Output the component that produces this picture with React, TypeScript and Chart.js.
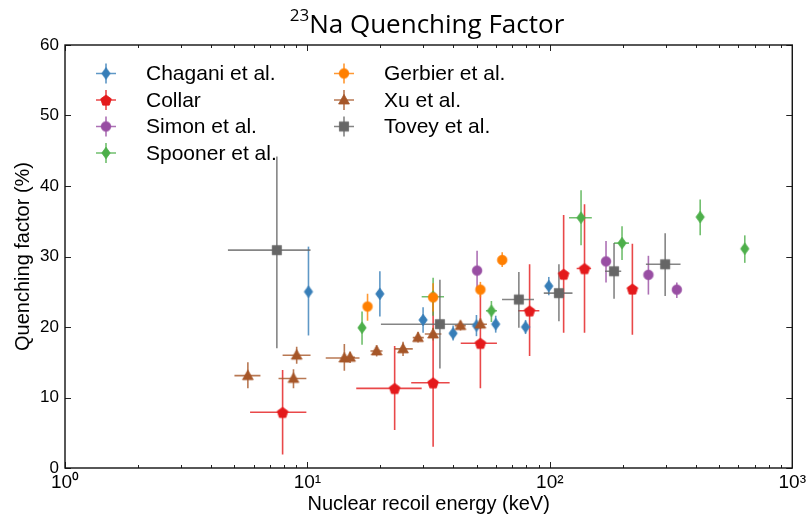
import React, { useEffect, useRef } from 'react';
import { Chart, registerables } from 'chart.js';
Chart.register(...registerables);

// [energy keV, QF %, energy low, energy high, QF low, QF high]
type Pt = [number, number, number, number, number, number];

const CHAGANI: Pt[] = [
  [10.1, 25.0, 10.1, 10.1, 18.8, 31.4],
  [19.9, 24.7, 19.9, 19.9, 21.5, 27.9],
  [30.0, 21.0, 30.0, 30.0, 19.2, 22.8],
  [39.9, 19.1, 39.9, 39.9, 18.1, 20.2],
  [49.8, 20.2, 49.8, 49.8, 18.7, 21.7],
  [59.8, 20.4, 59.8, 59.8, 19.2, 21.6],
  [79.4, 20.0, 79.4, 79.4, 19.0, 21.0],
  [99.0, 25.8, 99.0, 99.0, 24.5, 27.1],
];
const COLLAR: Pt[] = [
  [7.9, 7.9, 5.8, 9.9, 1.9, 13.9],
  [22.9, 11.3, 15.9, 29.6, 5.4, 17.3],
  [33.0, 12.1, 26.8, 38.6, 3.0, 24.3],
  [51.7, 17.7, 42.9, 60.5, 11.3, 24.6],
  [82.5, 22.3, 73.9, 90.5, 15.9, 28.9],
  [114, 27.5, 110, 118, 19.2, 35.9],
  [139, 28.3, 129, 148, 19.2, 37.4],
  [219, 25.4, 210, 228, 18.9, 31.8],
];
const SIMON: Pt[] = [
  [50.1, 28.0, 50.1, 50.1, 25.2, 30.8],
  [170.5, 29.3, 170.5, 170.5, 26.3, 32.2],
  [255, 27.4, 255, 255, 24.6, 30.1],
  [334, 25.3, 334, 334, 24.1, 26.3],
];
const SPOONER: Pt[] = [
  [16.8, 19.9, 16.3, 17.3, 17.5, 22.2],
  [33.0, 24.3, 29.6, 36.6, 21.6, 27.0],
  [57.4, 22.3, 54.5, 60.5, 20.7, 23.7],
  [134.5, 35.5, 120, 149, 31.6, 39.4],
  [198.5, 31.9, 184, 212, 29.5, 34.3],
  [417, 35.6, 417, 417, 33.0, 38.1],
  [637, 31.1, 637, 637, 29.1, 33.0],
];
const GERBIER: Pt[] = [
  [17.7, 22.9, 17.1, 18.3, 20.9, 24.7],
  [33.0, 24.2, 33.0, 33.0, 22.2, 26.2],
  [51.7, 25.3, 51.7, 51.7, 24.2, 26.4],
  [63.6, 29.5, 63.6, 63.6, 28.5, 30.6],
];
const XU: Pt[] = [
  [5.68, 13.1, 5.0, 6.4, 11.3, 15.0],
  [9.03, 16.0, 7.9, 10.3, 14.8, 17.2],
  [8.76, 12.7, 7.6, 9.9, 11.3, 14.0],
  [14.2, 15.6, 11.9, 16.4, 13.8, 17.6],
  [15.0, 15.7, 14.4, 15.7, 14.9, 16.5],
  [19.3, 16.6, 18.2, 20.4, 15.8, 17.4],
  [24.8, 16.9, 22.9, 27.2, 15.9, 17.9],
  [28.6, 18.5, 27.2, 30.2, 17.8, 19.3],
  [33.0, 19.0, 30.5, 35.7, 18.1, 19.9],
  [42.8, 20.2, 40.5, 45.0, 19.5, 20.9],
  [51.7, 20.4, 49.0, 55.0, 19.7, 21.2],
];
const TOVEY: Pt[] = [
  [7.48, 30.9, 4.7, 10.3, 17.0, 44.2],
  [35.2, 20.4, 20.1, 50.0, 14.1, 26.7],
  [74.5, 23.9, 63.5, 86.0, 19.9, 27.8],
  [109, 24.8, 94.4, 124, 20.8, 28.9],
  [184, 27.9, 169, 197, 24.0, 31.9],
  [299, 28.9, 249, 346, 24.4, 33.3],
];

const SERIES = [CHAGANI, COLLAR, SIMON, SPOONER, GERBIER, XU, TOVEY];
const SERIES_NAMES = ['Chagani et al.', 'Collar', 'Simon et al.', 'Spooner et al.', 'Gerbier et al.', 'Xu et al.', 'Tovey et al.'];
const SERIES_COLORS = ['#377eb8', '#e41a1c', '#984ea3', '#4daf4a', '#ff7f00', '#a65628', '#666666'];
const SERIES_MARKERS = ['diamond', 'pentagon', 'circle', 'diamond', 'circle', 'triangle', 'square'];

const X_TICKS = [1, 10, 100, 1000];
const X_TICK_LABELS = ['10⁰', '10¹', '10²', '10³'];
const Y_TICKS = [0, 10, 20, 30, 40, 50, 60];

const FONT = "'Liberation Sans', Arial, Helvetica, sans-serif";

function hexA(hex: string, a: number) {
  const n = parseInt(hex.slice(1), 16);
  return `rgba(${(n >> 16) & 255},${(n >> 8) & 255},${n & 255},${a})`;
}

function makeMarker(shape: string, color: string): HTMLCanvasElement {
  const c = document.createElement('canvas');
  c.width = 14; c.height = 14;
  const g = c.getContext('2d')!;
  g.fillStyle = color;
  g.strokeStyle = color;
  g.lineWidth = 0.8;
  const cx = 7, cy = 7;
  g.beginPath();
  if (shape === 'circle') {
    g.arc(cx, cy, 4.8, 0, Math.PI * 2);
  } else if (shape === 'diamond') {
    g.moveTo(cx, cy - 5.8); g.lineTo(cx + 4.2, cy); g.lineTo(cx, cy + 5.8); g.lineTo(cx - 4.2, cy); g.closePath();
  } else if (shape === 'pentagon') {
    for (let k = 0; k < 5; k++) {
      const a = -Math.PI / 2 + (k * 2 * Math.PI) / 5;
      const px = cx + 5.6 * Math.cos(a), py = cy + 0.6 + 5.6 * Math.sin(a);
      if (k === 0) g.moveTo(px, py); else g.lineTo(px, py);
    }
    g.closePath();
  } else if (shape === 'triangle') {
    g.moveTo(cx, cy - 5.6); g.lineTo(cx + 5.4, cy + 4); g.lineTo(cx - 5.4, cy + 4); g.closePath();
  } else {
    g.rect(cx - 4.6, cy - 4.6, 9.2, 9.2);
  }
  g.fill();
  g.stroke();
  return c;
}

const errorBarPlugin = {
  id: 'errorBars',
  beforeDatasetsDraw(chart: any) {
    const { ctx, scales } = chart;
    const xs = scales.x, ys = scales.y;
    ctx.save();
    ctx.lineWidth = 1.6;
    chart.data.datasets.forEach((ds: any, i: number) => {
      ctx.strokeStyle = hexA(SERIES_COLORS[i], 0.8);
      ds.data.forEach((d: any) => {
        const px = xs.getPixelForValue(d.x), py = ys.getPixelForValue(d.y);
        ctx.beginPath();
        if (d.xMax > d.xMin) {
          ctx.moveTo(xs.getPixelForValue(d.xMin), py);
          ctx.lineTo(xs.getPixelForValue(d.xMax), py);
        }
        ctx.moveTo(px, ys.getPixelForValue(d.yMin));
        ctx.lineTo(px, ys.getPixelForValue(d.yMax));
        ctx.stroke();
      });
    });
    ctx.restore();
  },
};

const framePlugin = {
  id: 'frame',
  afterDatasetsDraw(chart: any) {
    const { ctx, chartArea: a, scales } = chart;
    const xs = scales.x, ys = scales.y;
    ctx.save();
    ctx.strokeStyle = '#222';
    ctx.lineWidth = 1;
    ctx.beginPath();
    for (let d = 0; d < 3; d++) {
      for (let m = 1; m <= 9; m++) {
        const v = m * Math.pow(10, d);
        const px = Math.round(xs.getPixelForValue(v)) + 0.5;
        const len = m === 1 ? 6 : 3;
        ctx.moveTo(px, a.bottom); ctx.lineTo(px, a.bottom - len);
        ctx.moveTo(px, a.top); ctx.lineTo(px, a.top + len);
      }
    }
    Y_TICKS.forEach((v) => {
      const py = Math.round(ys.getPixelForValue(v)) + 0.5;
      ctx.moveTo(a.left, py); ctx.lineTo(a.left + 6, py);
      ctx.moveTo(a.right, py); ctx.lineTo(a.right - 6, py);
    });
    ctx.stroke();
    ctx.lineWidth = 1.4;
    ctx.strokeStyle = '#111';
    ctx.strokeRect(a.left, a.top, a.right - a.left, a.bottom - a.top);
    ctx.restore();
  },
};

const makeLegendPlugin = (markers: HTMLCanvasElement[]) => ({
  id: 'qfLegend',
  afterDraw(chart: any) {
    const { ctx, chartArea: a } = chart;
    ctx.save();
    ctx.font = `21px ${FONT}`;
    ctx.textBaseline = 'middle';
    ctx.textAlign = 'left';
    SERIES_NAMES.forEach((name, i) => {
      const col = i < 4 ? 0 : 1;
      const row = i < 4 ? i : i - 4;
      const mx = a.left + (col === 0 ? 41 : 279);
      const tx = a.left + (col === 0 ? 81 : 319);
      const y = a.top + 28.5 + row * 26.5;
      ctx.strokeStyle = hexA(SERIES_COLORS[i], 0.8);
      ctx.lineWidth = 1.6;
      ctx.beginPath();
      ctx.moveTo(mx - 10, y); ctx.lineTo(mx + 10, y);
      ctx.moveTo(mx, y - 10); ctx.lineTo(mx, y + 10);
      ctx.stroke();
      ctx.drawImage(markers[i], mx - 7, y - 7);
      ctx.fillStyle = '#000';
      ctx.fillText(name, tx, y + 1);
    });
    ctx.restore();
  },
});

export default function App() {
  const ref = useRef<HTMLCanvasElement | null>(null);
  useEffect(() => {
    if (!ref.current) return;
    const markers = SERIES_MARKERS.map((m, i) => makeMarker(m, SERIES_COLORS[i]));
    const chart = new Chart(ref.current, {
      type: 'scatter',
      data: {
        datasets: SERIES.map((pts, i) => ({
          label: SERIES_NAMES[i],
          data: pts.map((p) => ({ x: p[0], y: p[1], xMin: p[2], xMax: p[3], yMin: p[4], yMax: p[5] })),
          pointStyle: markers[i] as any,
          backgroundColor: SERIES_COLORS[i],
          borderColor: SERIES_COLORS[i],
          order: -i,
        })),
      },
      options: {
        responsive: false,
        animation: false,
        events: [],
        layout: { padding: { left: 0, top: 45, right: 15, bottom: 0 } },
        plugins: { legend: { display: false }, tooltip: { enabled: false }, title: { display: false } },
        scales: {
          x: {
            type: 'logarithmic',
            min: 1,
            max: 1000,
            grid: { display: false, drawTicks: false },
            border: { display: false },
            afterBuildTicks: (s: any) => { s.ticks = X_TICKS.map((v) => ({ value: v })); },
            ticks: {
              autoSkip: false,
              maxRotation: 0,
              padding: 3,
              color: '#000',
              font: { family: FONT, size: 19 },
              callback: (v: any, idx: number) => X_TICK_LABELS[idx] ?? '',
            },
            title: {
              display: true,
              text: 'Nuclear recoil energy (keV)',
              color: '#000',
              font: { family: FONT, size: 20 },
              padding: { top: 0, bottom: 3 },
            },
            afterFit: (s: any) => { s.height = 51; },
          } as any,
          y: {
            min: 0,
            max: 60,
            grid: { display: false, drawTicks: false },
            border: { display: false },
            afterBuildTicks: (s: any) => { s.ticks = Y_TICKS.map((v) => ({ value: v })); },
            ticks: {
              padding: 6,
              color: '#000',
              font: { family: FONT, size: 17 },
              callback: (v: any) => String(v),
            },
            title: {
              display: true,
              text: 'Quenching factor (%)',
              color: '#000',
              font: { family: FONT, size: 20 },
              padding: { top: 11, bottom: 0 },
            },
            afterFit: (s: any) => { s.width = 65; },
          } as any,
        },
      },
      plugins: [errorBarPlugin, framePlugin, makeLegendPlugin(markers)],
    });
    return () => chart.destroy();
  }, []);

  return (
    <div style={{ position: 'fixed', left: 0, top: 0, width: 809, height: 519, background: '#fff' }}>
      <canvas ref={ref} width={809} height={519} style={{ display: 'block', width: 809, height: 519 }} />
      <div
        style={{
          position: 'absolute',
          left: 60,
          width: 734,
          top: 8,
          textAlign: 'center',
          fontFamily: "'Open Sans', Lato, sans-serif",
          fontSize: 26,
          lineHeight: '30px',
          color: '#000',
          whiteSpace: 'nowrap',
        }}
      >
        <span style={{ fontSize: 17, position: 'relative', top: -12 }}>23</span>Na Quenching Factor
      </div>
    </div>
  );
}
